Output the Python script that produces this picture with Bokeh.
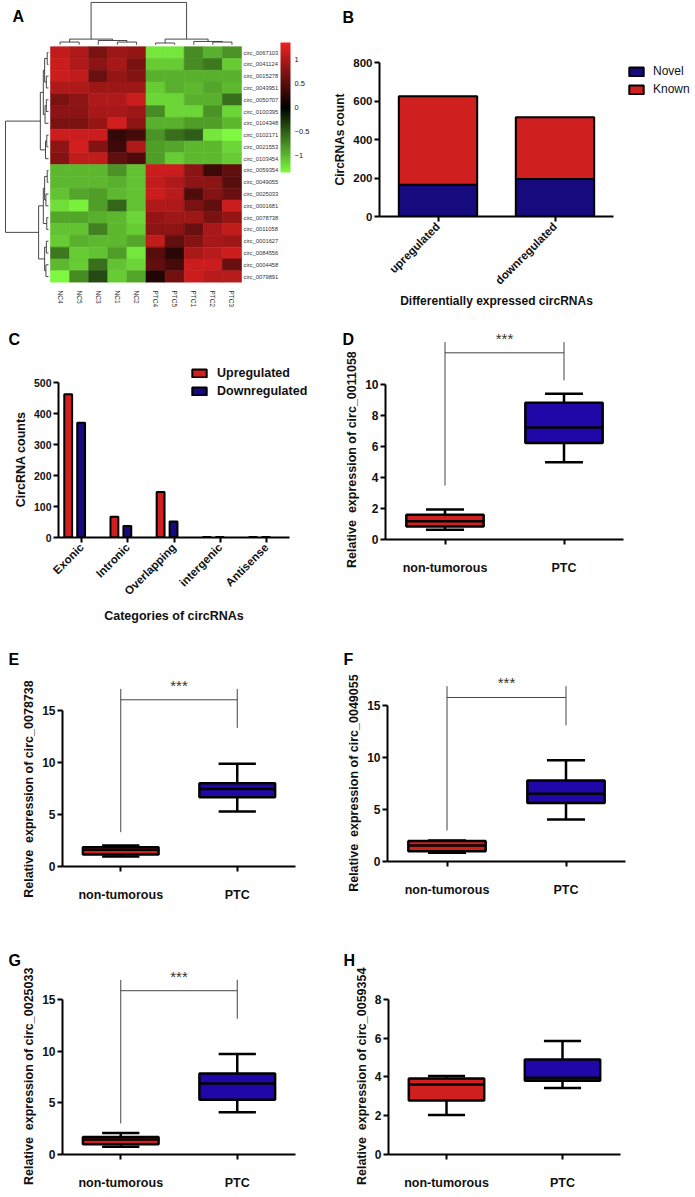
import math
from bokeh.plotting import figure
from bokeh.models import (ColumnDataSource, LinearColorMapper, ColorBar, FixedTicker,
                          Label, Legend, LegendItem, FactorRange, Range1d)
from bokeh.layouts import row, column
from bokeh.transform import dodge, transform
from bokeh.core.properties import value
from bokeh.embed import file_html
from bokeh.resources import INLINE

FONT = "Liberation Sans"
RED = "#d01f1f"
NAVY = "#17097e"
BLUE = "#2008a8"
NBSP = "\u00a0"

# ---------------- Panel A : heatmap ----------------
hm_cols = ["NC4", "NC5", "NC3", "NC1", "NC2", "PTC4", "PTC5", "PTC1", "PTC2", "PTC3"]
hm_rows = ["circ_0067103", "circ_0041124", "circ_0015278", "circ_0043951", "circ_0050707",
           "circ_0100395", "circ_0104348", "circ_0102171", "circ_0021553", "circ_0103454",
           "circ_0059354", "circ_0049055", "circ_0025033", "circ_0001681", "circ_0078738",
           "circ_0011058", "circ_0001627", "circ_0084556", "circ_0004458", "circ_0079891"]
hm_values = [
    [1.10, 1.00, 0.70, 0.90, 0.85, -1.25, -1.25, -0.75, -0.95, -0.80],
    [1.15, 1.00, 0.80, 0.95, 0.70, -1.10, -1.10, -0.75, -0.65, -1.10],
    [1.15, 1.10, 0.60, 0.85, 0.75, -0.95, -0.95, -0.95, -0.95, -0.95],
    [1.00, 1.00, 0.90, 0.90, 0.90, -1.10, -0.95, -1.00, -0.90, -1.00],
    [0.70, 0.80, 1.00, 1.00, 1.15, -1.15, -1.15, -0.95, -0.95, -0.60],
    [0.80, 0.80, 0.95, 0.95, 0.90, -0.75, -1.15, -1.15, -0.80, -1.15],
    [0.70, 0.70, 0.85, 1.20, 0.80, -0.95, -0.95, -0.85, -0.85, -1.00],
    [1.15, 1.15, 1.15, 0.30, 0.40, -0.80, -0.60, -0.50, -1.25, -1.35],
    [0.80, 1.20, 0.75, 0.35, 1.00, -0.85, -0.90, -1.00, -1.00, -1.15],
    [0.75, 1.10, 1.10, 0.55, 0.45, -0.85, -1.10, -1.00, -1.00, -1.10],
    [-1.00, -1.00, -1.00, -0.80, -1.05, 1.15, 1.15, 0.80, 0.35, 0.55],
    [-1.00, -1.00, -1.00, -0.95, -1.05, 1.10, 1.00, 0.80, 0.80, 0.50],
    [-1.05, -0.90, -0.85, -1.00, -1.05, 1.15, 1.05, 0.45, 0.75, 0.60],
    [-1.20, -1.30, -0.85, -0.55, -1.05, 1.00, 1.00, 0.70, 0.55, 1.15],
    [-0.90, -0.90, -0.95, -1.00, -1.15, 0.85, 0.90, 0.90, 0.70, 0.85],
    [-1.05, -1.05, -0.70, -1.00, -1.10, 0.80, 0.80, 0.60, 0.95, 1.10],
    [-1.10, -0.95, -1.00, -1.00, -0.90, 1.10, 0.55, 0.75, 0.95, 0.90],
    [-0.65, -1.10, -1.05, -0.85, -1.25, 0.50, 0.25, 0.95, 1.05, 1.15],
    [-1.00, -1.10, -0.60, -1.05, -1.15, 0.55, 0.40, 1.15, 1.15, 0.60],
    [-1.35, -0.75, -0.40, -1.10, -0.90, 0.20, 0.65, 1.15, 1.05, 1.05],
]
# dendrogram merges (child a, child b, relative height); new clusters numbered from n
hm_col_merges = [(0, 1, 0.063), (3, 4, 0.063), (2, 11, 0.10), (10, 12, 0.133),
                 (5, 6, 0.04), (8, 9, 0.063), (7, 15, 0.077), (14, 16, 0.133), (13, 17, 1.0)]
hm_row_merges = [(0, 1, 0.03), (2, 3, 0.05), (20, 21, 0.09), (4, 5, 0.05), (23, 6, 0.08),
                 (22, 24, 0.12), (7, 8, 0.04), (26, 9, 0.07), (25, 27, 0.19),
                 (10, 11, 0.03), (12, 13, 0.06), (29, 30, 0.09), (14, 15, 0.04), (31, 32, 0.12),
                 (16, 17, 0.05), (18, 19, 0.06), (34, 35, 0.09), (33, 36, 0.23), (28, 37, 1.0)]
hm_scale_ticks = [-1, -0.5, 0, 0.5, 1]

# ---------------- Panel B ----------------
b_groups = ["upregulated", "downregulated"]
b_novel = [165, 195]
b_known = [460, 320]
b_ticks = [0, 200, 400, 600, 800]

# ---------------- Panel C ----------------
c_categories = ["Exonic", "Intronic", "Overlapping", "intergenic", "Antisense"]
c_up = [462, 67, 147, 2, 2]
c_down = [370, 37, 52, 2, 2]
c_ticks = [0, 100, 200, 300, 400, 500]

# ---------------- Panels D-H : box plots [low whisker, Q1, median, Q3, high whisker] ----
box_groups = ["non-tumorous", "PTC"]
d_nt = [0.63, 0.84, 1.18, 1.59, 1.94]
d_ptc = [4.99, 6.22, 7.23, 8.82, 9.40]
e_nt = [0.96, 1.15, 1.60, 1.86, 2.02]
e_ptc = [5.29, 6.67, 7.44, 8.01, 9.87]
f_nt = [0.83, 0.99, 1.54, 1.96, 2.02]
f_ptc = [4.05, 5.62, 6.52, 7.80, 9.73]
g_nt = [0.74, 1.00, 1.45, 1.70, 2.09]
g_ptc = [4.09, 5.31, 6.86, 7.83, 9.73]
h_nt = [2.03, 2.78, 3.60, 3.92, 4.05]
h_ptc = [3.43, 3.80, 3.95, 4.89, 5.85]
# significance bracket: [left foot, right foot, bar level, top], stars level
d_bracket = [3.48, 10.26, 12.04, 12.73]
e_bracket = [3.30, 13.33, 16.03, 17.08]
f_bracket = [2.99, 13.10, 15.77, 16.86]
g_bracket = [3.00, 13.13, 15.85, 16.90]
d_stars, e_stars, f_stars, g_stars = 12.95, 17.4, 17.18, 17.2


def style(p, tick_size, label_size="12.5px"):
    p.outline_line_color = None
    p.xgrid.grid_line_color = None
    p.ygrid.grid_line_color = None
    for ax in p.axis:
        ax.axis_line_color = "black"
        ax.axis_line_width = 2
        ax.major_tick_line_color = "black"
        ax.major_tick_line_width = 2
        ax.major_tick_in = 0
        ax.major_tick_out = 5
        ax.minor_tick_line_color = None
        ax.major_label_text_font = FONT
        ax.major_label_text_font_style = "bold"
        ax.major_label_text_font_size = tick_size
        ax.major_label_text_color = "#111111"
        ax.axis_label_text_font = FONT
        ax.axis_label_text_font_style = "bold"
        ax.axis_label_text_font_size = label_size
        ax.axis_label_text_color = "#111111"
    p.yaxis.major_label_standoff = 2
    p.yaxis.axis_label_standoff = 3


def shifted(text, shift_px, room_px, text_px, font_px=12.5):
    # move a rotated axis title towards the centre of the axis bounds (trailing no-break spaces)
    w = 0.278 * font_px
    n = int(round(2 * shift_px / w))
    n_max = int((2 * room_px - 2 - text_px) // w)
    n = max(0, min(n, n_max))
    return text + NBSP * n


def letter(p, txt, x, y, side):
    lab = Label(x=x, y=y, text=txt, text_font=FONT, text_font_style="bold",
                text_font_size="16px", text_baseline="top", text_align="left",
                text_color="black")
    if side == "center":
        p.add_layout(lab)
    else:
        p.add_layout(lab, side)


def dendro(merges, n):
    pos = {i: float(i) for i in range(n)}
    hgt = {i: 0.0 for i in range(n)}
    segs = []
    for k, (a, b, h) in enumerate(merges):
        segs.append((pos[a], hgt[a], pos[a], h))
        segs.append((pos[b], hgt[b], pos[b], h))
        segs.append((pos[a], h, pos[b], h))
        pos[n + k] = (pos[a] + pos[b]) / 2
        hgt[n + k] = h
    return segs


# ======== A ========
nr, nc = len(hm_rows), len(hm_cols)
pal = []
g_end = (126, 248, 64)
r_end = (236, 34, 34)
for k in range(256):
    t = k / 255
    if t < 0.5:
        f = 1 - 2 * t
        c = tuple(int(round(v * f)) for v in g_end)
    else:
        f = 2 * t - 1
        c = tuple(int(round(v * f)) for v in r_end)
    pal.append("#%02x%02x%02x" % c)
mapper = LinearColorMapper(palette=pal, low=-1.35, high=1.35)

A_W, A_H, A_BB = 330, 310, 23
cell_px, row_px = 19.1, 12.0
ax0 = -0.5 - 50 / cell_px
ay1 = nr - 0.5 + 47 / row_px
pA = figure(width=A_W, height=A_H, x_range=Range1d(ax0, ax0 + A_W / cell_px),
            y_range=Range1d(-0.5, ay1), x_axis_location="below", y_axis_location=None,
            min_border_left=0, min_border_top=0, min_border_right=0, min_border_bottom=A_BB,
            frame_align=False, output_backend="svg", toolbar_location=None)
pA.outline_line_color = None
pA.grid.grid_line_color = None
hx, hy, hv = [], [], []
for i in range(nr):
    for j in range(nc):
        hx.append(j)
        hy.append(nr - 1 - i)
        hv.append(hm_values[i][j])
srcA = ColumnDataSource(dict(x=hx, y=hy, v=hv))
pA.rect(x="x", y="y", width=1, height=1, source=srcA,
        fill_color=transform("v", mapper), line_color=transform("v", mapper), line_width=0.6)

cs = dendro(hm_col_merges, nc)
top0, topk = nr - 0.5 + 2 / row_px, 43 / row_px
pA.segment(x0=[s[0] for s in cs], y0=[top0 + s[1] * topk for s in cs],
           x1=[s[2] for s in cs], y1=[top0 + s[3] * topk for s in cs],
           line_color="#333333", line_width=0.9)
rs_ = dendro(hm_row_merges, nr)
left0, leftk = -0.5 - 2 / cell_px, 43 / cell_px
pA.segment(x0=[left0 - s[1] * leftk for s in rs_], y0=[nr - 1 - s[0] for s in rs_],
           x1=[left0 - s[3] * leftk for s in rs_], y1=[nr - 1 - s[2] for s in rs_],
           line_color="#333333", line_width=0.9)
pA.text(x=[nc - 0.5 + 2 / cell_px] * nr, y=[nr - 1 - i for i in range(nr)], text=hm_rows,
        text_font=value(FONT), text_font_size="5.8px", text_baseline="middle",
        text_align="left", text_color="#333333")

xa = pA.xaxis[0]
xa.ticker = FixedTicker(ticks=list(range(nc)))
xa.major_label_overrides = {j: hm_cols[j] for j in range(nc)}
xa.major_label_orientation = -math.pi / 2
xa.axis_line_color = None
xa.major_tick_line_color = None
xa.minor_tick_line_color = None
xa.major_label_standoff = 2
xa.major_label_text_font = FONT
xa.major_label_text_font_size = "6.5px"
xa.major_label_text_color = "#333333"

cb = ColorBar(color_mapper=mapper, ticker=FixedTicker(ticks=hm_scale_ticks), width=10, height=130,
              location=(279, 109), padding=1, label_standoff=4,
              major_label_overrides={-1: "\u22121", -0.5: "\u22120.5", 0: "0", 0.5: "0.5", 1: "1"},
              major_label_text_font=FONT, major_label_text_font_size="7.5px",
              major_label_text_color="#222222", major_tick_line_color=None,
              bar_line_color=None, border_line_color=None, background_fill_alpha=0)
pA.add_layout(cb)
letter(pA, "A", ax0 + 12 / cell_px, ay1 - 8 / row_px, "center")

# ======== B ========
B_W, B_H, B_L, B_R, B_T, B_B = 363, 310, 49, 0, 62, 94
b_px = 117.0
b_ppu = (B_H - B_T - B_B) / b_ticks[-1]
b_x = [i + 0.5 for i in range(len(b_groups))]
pB = figure(width=B_W, height=B_H, x_range=Range1d(0, (B_W - B_L - B_R) / b_px),
            y_range=Range1d(0, b_ticks[-1]),
            min_border_left=B_L, min_border_right=B_R, min_border_top=B_T, min_border_bottom=B_B,
            frame_align=False, output_backend="svg", toolbar_location=None)
style(pB, "11.5px", "12px")
srcB = ColumnDataSource(dict(x=b_x, Novel=b_novel, Known=b_known))
rB = pB.vbar_stack(["Novel", "Known"], x="x", width=0.67, fill_color=[NAVY, RED],
                   line_color="black", line_width=2, source=srcB)
pB.xaxis.bounds = (0, len(b_groups))
pB.xaxis.ticker = FixedTicker(ticks=b_x)
pB.xaxis.major_label_overrides = dict(zip(b_x, b_groups))
pB.yaxis.ticker = FixedTicker(ticks=b_ticks)
pB.xaxis.major_label_orientation = math.pi / 4
pB.xaxis.major_label_standoff = 3
pB.yaxis.axis_label = "CircRNAs count"
pB.add_layout(Label(x=len(b_groups) / 2, y=-84 / b_ppu, text="Differentially expressed circRNAs",
                    text_align="center", text_baseline="middle", text_font=FONT,
                    text_font_style="bold", text_font_size="12px", text_color="#111111"), "below")
legB = Legend(items=[LegendItem(label="Novel", renderers=[rB[0]]),
                     LegendItem(label="Known", renderers=[rB[1]])],
              location=(248, 120), padding=0, margin=0, spacing=4, glyph_width=18, glyph_height=11,
              label_height=14, label_standoff=8, border_line_color=None, background_fill_alpha=0,
              label_text_font=FONT, label_text_font_size="12px", label_text_color="#111111")
pB.add_layout(legB)
letter(pB, "B", (12 - B_L) / b_px, (B_H - B_B - 8) / b_ppu, "above")

# ======== C ========
C_W, C_H, C_L, C_R, C_T, C_B = 330, 316, 58, 0, 50, 89
C_TOP = 571
c_px = 46.2
c_ppu = (C_H - C_T - C_B) / C_TOP
c_x = [i + 0.5 for i in range(len(c_categories))]
pC = figure(width=C_W, height=C_H, x_range=Range1d(0, (C_W - C_L - C_R) / c_px),
            y_range=Range1d(0, C_TOP),
            min_border_left=C_L, min_border_right=C_R, min_border_top=C_T, min_border_bottom=C_B,
            frame_align=False, output_backend="svg", toolbar_location=None)
style(pC, "10.5px")
pC.xaxis.major_label_text_font_size = "11.5px"
srcC = ColumnDataSource(dict(xu=[v - 0.29 for v in c_x], xd=[v - 0.01 for v in c_x],
                             up=c_up, down=c_down))
rUp = pC.vbar(x="xu", top="up", width=0.17, source=srcC,
              fill_color=RED, line_color="black", line_width=2)
rDn = pC.vbar(x="xd", top="down", width=0.17, source=srcC,
              fill_color=NAVY, line_color="black", line_width=2)
pC.xaxis.bounds = (0, len(c_categories))
pC.xaxis.ticker = FixedTicker(ticks=c_x)
pC.xaxis.major_label_overrides = dict(zip(c_x, c_categories))
pC.yaxis.bounds = (0, c_ticks[-1])
pC.yaxis.ticker = FixedTicker(ticks=c_ticks)
pC.xaxis.major_label_orientation = math.pi / 4
pC.xaxis.major_label_standoff = 3
c_fh = C_H - C_T - C_B
c_shift = (C_H - C_B - c_ticks[-1] / 2 * c_ppu) - (C_T + c_fh / 2)
pC.yaxis.axis_label = shifted("CircRNA counts", c_shift, C_T + c_fh / 2, 96)
pC.add_layout(Label(x=len(c_categories) / 2, y=-78 / c_ppu, text="Categories of circRNAs",
                    text_align="center", text_baseline="middle", text_font=FONT,
                    text_font_style="bold", text_font_size="12.5px", text_color="#111111"), "below")
legC = Legend(items=[LegendItem(label="Upregulated", renderers=[rUp]),
                     LegendItem(label="Downregulated", renderers=[rDn])],
              location=(132, 139), padding=0, margin=0, spacing=4, glyph_width=18, glyph_height=10,
              label_height=14, label_standoff=9, border_line_color=None, background_fill_alpha=0,
              label_text_font=FONT, label_text_font_style="bold", label_text_font_size="12.5px",
              label_text_color="#111111")
pC.add_layout(legC)
letter(pC, "C", (8 - C_L) / c_px, (C_H - C_B - 20) / c_ppu, "above")


# ======== D-H ========
def box_panel(txt, gene, nt, ptc, bracket, stars, ticks, y_end, W, H, bl, br, bt, bb, lx, ly):
    p = figure(width=W, height=H, x_range=FactorRange(*box_groups), y_range=Range1d(0, y_end),
               min_border_left=bl, min_border_right=br, min_border_top=bt, min_border_bottom=bb,
               frame_align=False, output_backend="svg", toolbar_location=None)
    style(p, "12px")
    fw, fh = W - bl - br, H - bt - bb
    ppu = fh / y_end
    shift = (H - bb - ticks[-1] / 2 * ppu) - (bt + fh / 2)
    p.yaxis.bounds = (0, ticks[-1])
    p.yaxis.ticker = FixedTicker(ticks=ticks)
    p.yaxis.axis_label = shifted("Relative " + NBSP + "expression of " + gene, shift,
                                 bt + fh / 2, 218)
    p.xaxis.major_label_text_font_size = "12.5px"
    p.xaxis.major_label_standoff = 16
    src = ColumnDataSource(dict(g=box_groups, lo=[nt[0], ptc[0]], q1=[nt[1], ptc[1]],
                                med=[nt[2], ptc[2]], q3=[nt[3], ptc[3]], hi=[nt[4], ptc[4]],
                                col=[RED, BLUE]))
    kw = dict(source=src, line_color="black", line_width=2.5)
    p.segment(x0="g", y0="lo", x1="g", y1="hi", **kw)
    for fld in ("lo", "hi"):
        p.segment(x0=dodge("g", -0.16, range=p.x_range), y0=fld,
                  x1=dodge("g", 0.16, range=p.x_range), y1=fld, **kw)
    p.vbar(x="g", bottom="q1", top="q3", width=0.65, fill_color="col", **kw)
    p.segment(x0=dodge("g", -0.325, range=p.x_range), y0="med",
              x1=dodge("g", 0.325, range=p.x_range), y1="med", **kw)
    if bracket is not None:
        p.segment(x0=[box_groups[0], box_groups[1], box_groups[0]],
                  y0=[bracket[0], bracket[1], bracket[2]],
                  x1=[box_groups[0], box_groups[1], box_groups[1]],
                  y1=[bracket[3], bracket[3], bracket[2]],
                  line_color="#444444", line_width=1)
        p.add_layout(Label(x=len(box_groups) / 2, y=stars, text="***", text_align="center",
                           text_baseline="middle", text_font=FONT, text_font_size="15px",
                           text_color="#333333"), "above")
    letter(p, txt, (lx - bl) / fw * len(box_groups), (H - bb - ly) / fh * y_end, "right")
    return p


pD = box_panel("D", "circ_0011058", d_nt, d_ptc, d_bracket, d_stars, [0, 2, 4, 6, 8, 10], 12.77,
               363, 316, 55, 70, 31, 87, 12, 20)
pE = box_panel("E", "circ_0078738", e_nt, e_ptc, e_bracket, e_stars, [0, 5, 10, 15], 19.23,
               330, 280, 62, 35, 40, 40, 8, 24)
pF = box_panel("F", "circ_0049055", f_nt, f_ptc, f_bracket, f_stars, [0, 5, 10, 15], 18.75,
               363, 280, 57, 68, 40, 45, 13, 24)
pG = box_panel("G", "circ_0025033", g_nt, g_ptc, g_bracket, g_stars, [0, 5, 10, 15], 19.16,
               330, 289, 62, 35, 50, 41, 8, 45)
pH = box_panel("H", "circ_0059354", h_nt, h_ptc, None, None, [0, 2, 4, 6, 8], 10.2,
               363, 289, 58, 73, 50, 41, 13, 45)

layout = column(row(pA, pB, spacing=0), row(pC, pD, spacing=0),
                row(pE, pF, spacing=0), row(pG, pH, spacing=0), spacing=0)
open("out.html", "w").write(file_html(layout, INLINE))
